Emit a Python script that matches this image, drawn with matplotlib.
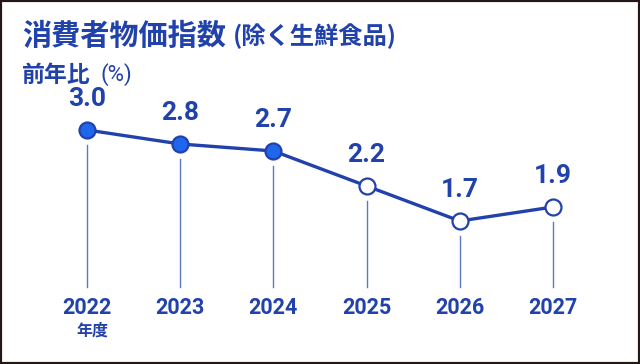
import matplotlib.pyplot as plt
from matplotlib.patches import Rectangle

years = ["2022", "2023", "2024", "2025", "2026", "2027"]
values = [3.0, 2.8, 2.7, 2.2, 1.7, 1.9]
actual = [True, True, True, False, False, False]   # filled = actual, open = forecast

DARK = "#2141ab"
FILL = "#1f66ee"
DROP = "#5f78c0"
JP = ["Noto Sans CJK JP", "DejaVu Sans"]
NUM = ["Roboto", "DejaVu Sans"]

fig = plt.figure(figsize=(6.4, 3.64), dpi=100)
ax = fig.add_axes([0, 0, 1, 1])
ax.set_xlim(-0.933, 5.933)
ax.set_ylim(-0.343, 4.857)
ax.axis("off")

x = list(range(len(years)))

# drop lines from each point to the axis labels
for i, v in zip(x, values):
    ax.plot([i, i], [0.757, v - 0.21], color=DROP, lw=1.0, zorder=1)

ax.plot(x, values, color=DARK, lw=2.4, zorder=2)
for i, v, a in zip(x, values, actual):
    ax.plot(i, v, "o", ms=11.5, mec=DARK, mew=1.6,
            mfc=FILL if a else "white", zorder=3)
    ax.text(i, v + 0.27, f"{v:.1f}", ha="center", va="bottom",
            fontsize=19, fontweight="bold", color=DARK, family=NUM)

for i, y in zip(x, years):
    ax.text(i, 0.46, y, ha="center", va="center", fontsize=15.5,
            fontweight="bold", color=DARK, family=NUM)
ax.text(0.054, 0.14, "年度", ha="center", va="center", fontsize=11.5,
        fontweight="bold", color=DARK, family=JP)

fig.text(22 / 640, 1 - 36 / 364, "消費者物価指数", ha="left", va="center",
         fontsize=21, fontweight="bold", color=DARK, family=JP)
fig.text(233 / 640, 1 - 36 / 364, "(除く生鮮食品)", ha="left", va="center",
         fontsize=17.5, fontweight="bold", color=DARK, family=JP)
fig.text(22 / 640, 1 - 75 / 364, "前年比", ha="left", va="center",
         fontsize=16.5, fontweight="bold", color=DARK, family=JP)
fig.text(100 / 640, 1 - 75 / 364, "(%)", ha="left", va="center",
         fontsize=16, color=DARK, family=NUM)

fig.patches.append(Rectangle((0, 0), 1, 1, transform=fig.transFigure,
                             fill=False, ec="#231815", lw=3))

fig.savefig("out.png", dpi=100)
